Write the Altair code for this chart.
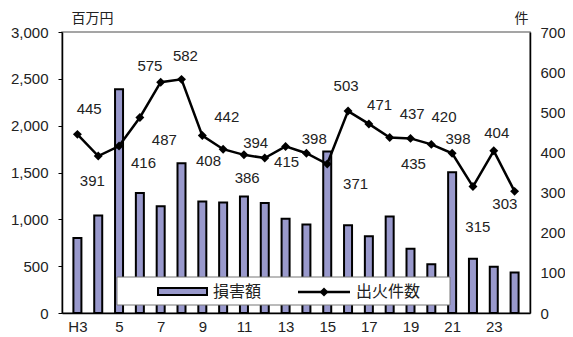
import altair as alt
import pandas as pd

# ---- data ----
years = ["H3", "H4", "H5", "H6", "H7", "H8", "H9", "H10", "H11", "H12", "H13",
         "H14", "H15", "H16", "H17", "H18", "H19", "H20", "H21", "H22", "H23", "H24"]
damage = [800, 1040, 2390, 1280, 1140, 1600, 1190, 1180, 1245, 1175, 1005,
          945, 1725, 937, 820, 1030, 685, 521, 1503, 578, 493, 432]
fires = [445, 391, 416, 487, 575, 582, 442, 408, 394, 386, 415,
         398, 371, 503, 471, 437, 435, 420, 398, 315, 404, 303]
tick_labels = ["H3", "5", "7", "9", "11", "13", "15", "17", "19", "21", "23"]

# label placement offsets (pixels, relative to each point) mimicking the original
label_dx = [12, -6, 25, 25, -11, 4, 25, -15, 12, -18, 1,
            8, 29, -2, 11, 23, 3, 13, 6, 5, 3, -10]
label_dy = [-25, 25, 17, 22, -16, -23, -19, 12, -12, 20, 16,
            -14, 20, -25, -19, -24, 26, -27, -14, 40, -18, 13]

W, H = 468, 281
N = len(years)
PX_X = W / N
PX_Y = H / 700

df = pd.DataFrame({
    "year": years,
    "pos": [i + 0.5 for i in range(N)],
    "damage": damage,
    "fires": fires,
    "ldx": label_dx,
    "ldy": label_dy,
})

NUM_FONT = "Liberation Sans"
JP_FONT = "Noto Sans CJK JP"

label_js = "[" + ",".join("'%s'" % t for t in tick_labels) + "]"
x_axis = alt.Axis(
    values=[0.5 + 2 * k for k in range(len(tick_labels))],
    labelExpr=label_js + "[floor(datum.value / 2)]",
    ticks=False, grid=False, title=None,
    domainColor="black", domainWidth=1.5,
    labelFont=NUM_FONT, labelFontSize=15, labelColor="#222",
    labelPadding=6,
)
x_scale = alt.Scale(domain=[0, N], nice=False, zero=False)
x_enc = alt.X("pos:Q", scale=x_scale, axis=x_axis)

base = alt.Chart(df)

bars = base.mark_bar(size=8, fill="#9999cc", stroke="black", strokeWidth=2).encode(
    x=x_enc,
    y=alt.Y("damage:Q",
            scale=alt.Scale(domain=[0, 3000], nice=False),
            axis=alt.Axis(values=[0, 500, 1000, 1500, 2000, 2500, 3000], format=",.0f",
                          orient="left", grid=False,
                          domainColor="black", domainWidth=1.5,
                          tickColor="black", tickSize=4,
                          labelFont=NUM_FONT, labelFontSize=15, labelColor="#222",
                          labelPadding=10,
                          title="百万円", titleAngle=0, titleFont=JP_FONT,
                          titleFontSize=14, titleFontWeight="normal", titleColor="#222",
                          titleX=30, titleY=-14, titleAlign="center",
                          titleBaseline="middle")),
)

one = alt.Chart(pd.DataFrame({"k": [0]}))
leg_box = one.mark_rect(fill="white", stroke="#777", strokeWidth=1).encode(
    x=alt.value(55), x2=alt.value(388), y=alt.value(245), y2=alt.value(273))
leg_bar = one.mark_rect(fill="#9999cc", stroke="black", strokeWidth=2).encode(
    x=alt.value(96), x2=alt.value(145), y=alt.value(256), y2=alt.value(263))
leg_t1 = one.mark_text(text="損害額", align="left", baseline="middle",
                       font=JP_FONT, fontSize=16, color="#222").encode(
    x=alt.value(151), y=alt.value(260))
leg_line = one.mark_rule(color="black", strokeWidth=2.5).encode(
    x=alt.value(236), x2=alt.value(288), y=alt.value(260))
leg_pt = one.mark_point(shape="diamond", filled=True, size=80, color="black", opacity=1).encode(
    x=alt.value(262), y=alt.value(260))
leg_t2 = one.mark_text(text="出火件数", align="left", baseline="middle",
                       font=JP_FONT, fontSize=16, color="#222").encode(
    x=alt.value(294), y=alt.value(260))

y_right = alt.Scale(domain=[0, 700], nice=False)
right_axis = alt.Axis(values=[0, 100, 200, 300, 400, 500, 600, 700], format=".0f",
                      orient="right", grid=False, ticks=False,
                      domainColor="black", domainWidth=1.5,
                      labelFont=NUM_FONT, labelFontSize=15, labelColor="#222",
                      labelPadding=10,
                      title="件", titleAngle=0, titleFont=JP_FONT,
                      titleFontSize=14, titleFontWeight="normal", titleColor="#222",
                      titleX=-9, titleY=-14, titleAlign="center",
                      titleBaseline="middle")

line = base.mark_line(color="black", strokeWidth=2.5).encode(
    x=x_enc, y=alt.Y("fires:Q", scale=y_right, axis=right_axis))
pts = base.mark_point(shape="diamond", filled=True, size=80, color="black", opacity=1).encode(
    x=x_enc, y=alt.Y("fires:Q", scale=y_right, axis=right_axis))
labels = base.transform_calculate(
    lx="datum.pos + datum.ldx / %f" % PX_X,
    ly="datum.fires - datum.ldy / %f" % PX_Y,
).mark_text(font=NUM_FONT, fontSize=15, color="#222", baseline="middle").encode(
    x=alt.X("lx:Q", scale=x_scale, axis=x_axis),
    y=alt.Y("ly:Q", scale=y_right, axis=right_axis),
    text=alt.Text("fires:Q"),
)

line_group = alt.layer(line, pts, labels)

chart = alt.layer(
    bars, leg_box, leg_bar, leg_t1, leg_line, leg_pt, leg_t2, line_group
).resolve_scale(y="independent").properties(
    width=W, height=H,
    autosize=alt.AutoSizeParams(type="none"),
    padding={"left": 54, "top": 24, "right": 35, "bottom": 28},
    background="white",
).configure_view(stroke="#888", strokeWidth=1.5)

chart.save("out.html", embed_options={"renderer": "svg", "actions": False})
